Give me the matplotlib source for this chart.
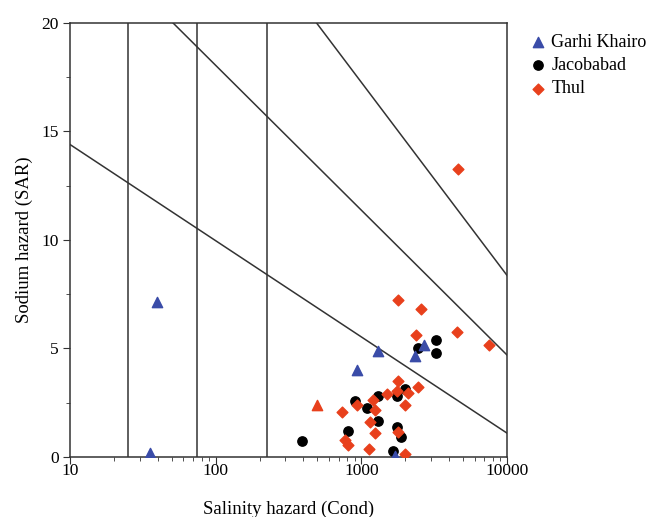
import numpy as np
import matplotlib.pyplot as plt

plt.rcParams['font.family'] = ['Liberation Serif', 'DejaVu Serif']

# Garhi Khairo (blue triangles)
gk_cond = [39.7, 35.4, 929, 1306, 2334, 2692, 1700]
gk_sar = [7.14, 0.18, 4.03, 4.88, 4.64, 5.15, 0.05]

# Jacobabad (black circles)
jb_cond = [389, 813, 903, 1087, 1294, 1294, 1656, 1745, 1770, 1870, 1992, 2459, 3253, 3253]
jb_sar = [0.72, 1.18, 2.57, 2.28, 2.80, 1.66, 0.28, 2.80, 1.38, 0.92, 3.11, 5.0, 5.41, 4.79]

# Thul (red diamonds)
th_cond = [4580, 1790, 2565, 2370, 4510, 7520, 2432, 1790, 1745, 1493, 2100, 1992,
           1197, 1240, 937, 733, 1146, 1240, 771, 813, 1133, 1790, 1992]
th_sar = [13.29, 7.25, 6.84, 5.64, 5.76, 5.15, 3.23, 3.50, 3.04, 2.88, 2.95, 2.41,
          2.61, 2.18, 2.38, 2.07, 1.61, 1.11, 0.77, 0.54, 0.39, 1.15, 0.16]

# odd red triangle in the original
tri_cond = [493]
tri_sar = [2.41]

# class boundaries
v_lines = [25, 75, 225]
diag_x = [[10, 10000], [51, 10000], [493, 10000]]
diag_y = [[14.4, 1.1], [20, 4.7], [20, 8.37]]

fig = plt.figure(figsize=(6.52, 5.17), dpi=100)
ax = fig.add_axes([0.1074, 0.1161, 0.6702, 0.8394])

lc = '#333333'
for v in v_lines:
    ax.axvline(v, color=lc, lw=1.1)
for xs, ys in zip(diag_x, diag_y):
    # straight in log-x space
    lx = np.linspace(np.log10(xs[0]), np.log10(xs[1]), 50)
    ly = np.interp(lx, np.log10(xs), ys)
    ax.plot(10 ** lx, ly, color=lc, lw=1.1)

ax.scatter(jb_cond, jb_sar, marker='o', s=45, color='black', label='Jacobabad', zorder=3)
ax.scatter(th_cond, th_sar, marker='D', s=30, color='#e8401c', label='Thul', zorder=3)
ax.scatter(tri_cond, tri_sar, marker='^', s=55, color='#e8401c', zorder=3)
ax.scatter(gk_cond, gk_sar, marker='^', s=55, color='#3a4ca8', label='Garhi Khairo', zorder=4)

ax.set_xscale('log')
ax.set_xlim(10, 10000)
ax.set_ylim(0, 20)
ax.set_xticks([10, 100, 1000, 10000])
ax.set_xticklabels(['10', '100', '1000', '10000'])
ax.set_yticks([0, 5, 10, 15, 20])
ax.set_yticks([2.5, 7.5, 12.5, 17.5], minor=True)
ax.tick_params(which='both', direction='out', top=False, right=False, labelsize=12.5, color=lc)
ax.tick_params(which='major', length=5, pad=3)
ax.tick_params(which='minor', length=3)
ax.tick_params(axis='x', which='major', pad=-1)
for s in ax.spines.values():
    s.set_color(lc)
    s.set_linewidth(1.1)

ax.set_xlabel('Salinity hazard (Cond)', fontsize=13.5, labelpad=16)
ax.set_ylabel('Sodium hazard (SAR)', fontsize=13.5, labelpad=6)

h, l = ax.get_legend_handles_labels()
order = [2, 0, 1]
ax.legend([h[i] for i in order], [l[i] for i in order],
          loc='upper left', bbox_to_anchor=(1.025, 1.0), frameon=False, fontsize=13,
          handletextpad=0.25, handlelength=1.0, labelspacing=0.35, borderaxespad=0.2)

fig.savefig('out.png', dpi=100)
